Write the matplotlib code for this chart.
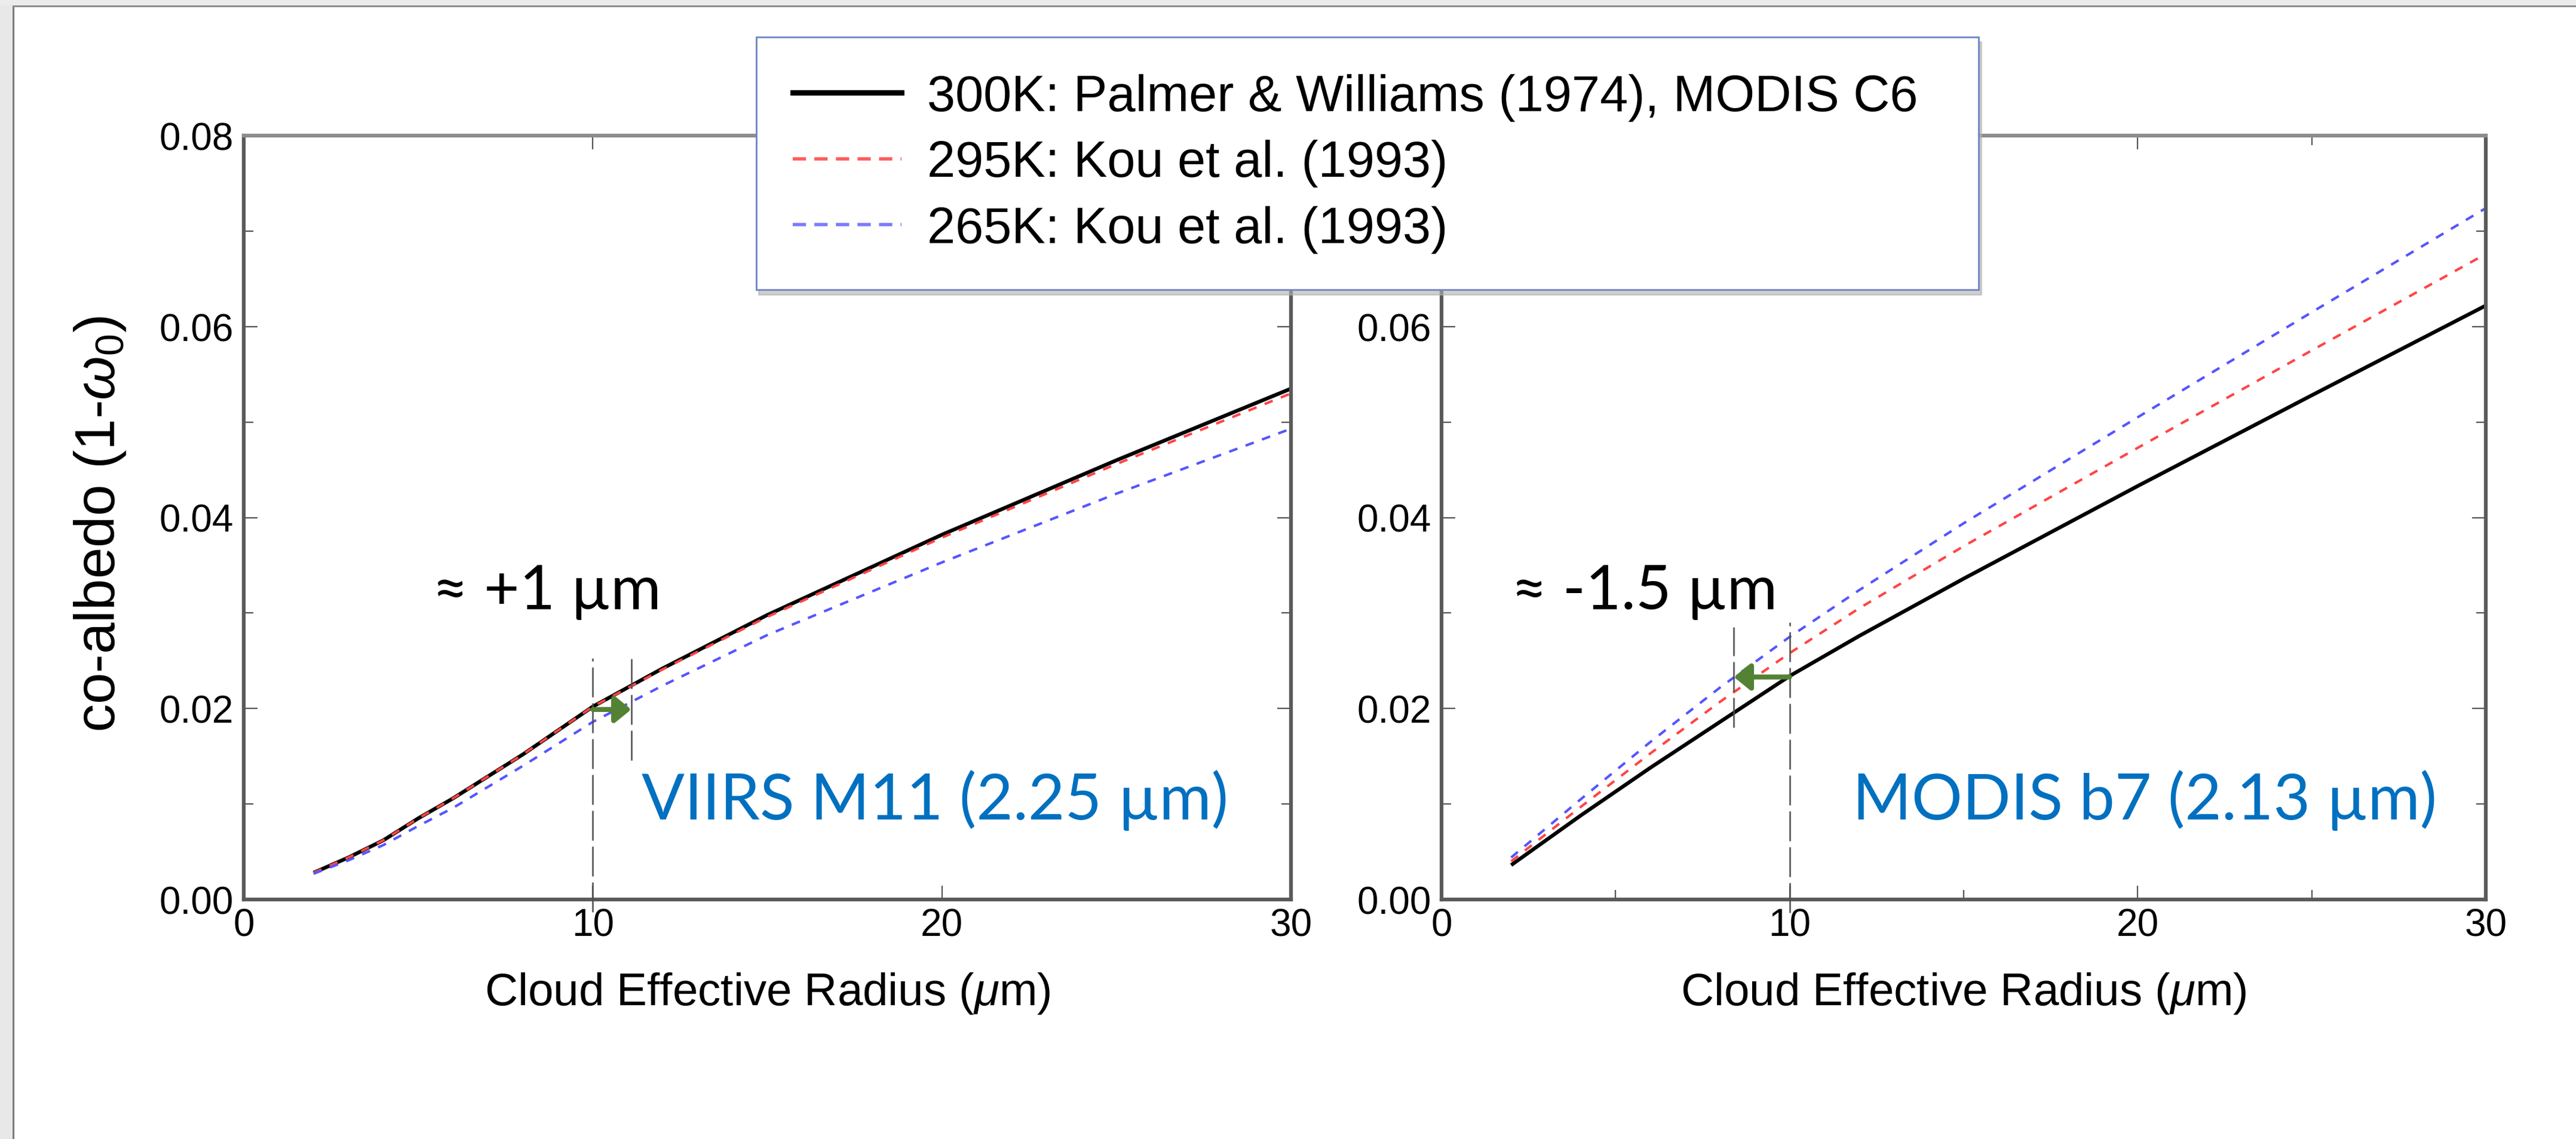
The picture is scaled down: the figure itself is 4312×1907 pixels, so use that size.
import matplotlib
matplotlib.use("Agg")
import matplotlib.pyplot as plt
from matplotlib.lines import Line2D
from matplotlib.patches import Rectangle
from matplotlib.ticker import MultipleLocator

plt.rcParams['font.family'] = ['Liberation Sans', 'DejaVu Sans']
plt.rcParams['mathtext.fontset'] = 'custom'
plt.rcParams['mathtext.rm'] = 'Liberation Sans'
plt.rcParams['mathtext.it'] = 'Liberation Sans:italic'

# ---------------- data ----------------
radius = [2, 3, 4, 5, 6, 8, 10, 12, 15, 20, 25, 30]
viirs_300k = [0.0028, 0.0044, 0.0062, 0.0085, 0.0106, 0.0152, 0.0202, 0.0242, 0.0298, 0.0382, 0.0460, 0.0535]
viirs_295k = [0.0028, 0.0044, 0.0062, 0.0085, 0.0106, 0.0152, 0.0202, 0.0241, 0.0296, 0.0379, 0.0456, 0.0530]
viirs_265k = [0.0027, 0.0041, 0.0057, 0.0077, 0.0096, 0.0140, 0.0186, 0.0224, 0.0277, 0.0353, 0.0425, 0.0493]

radius_b = [2, 4, 6, 8, 10, 12, 15, 20, 25, 30]
modis_300k = [0.0036, 0.0088, 0.0138, 0.0186, 0.0234, 0.0276, 0.0336, 0.0433, 0.0528, 0.0622]
modis_295k = [0.0040, 0.0097, 0.0153, 0.0207, 0.0258, 0.0305, 0.0370, 0.0473, 0.0575, 0.0676]
modis_265k = [0.0044, 0.0105, 0.0165, 0.0222, 0.0275, 0.0324, 0.0394, 0.0505, 0.0615, 0.0724]

legend_labels = ["300K: Palmer & Williams (1974), MODIS C6",
                 "295K: Kou et al. (1993)",
                 "265K: Kou et al. (1993)"]
x_ticks = [0, 10, 20, 30]
y_ticks = [0.00, 0.02, 0.04, 0.06, 0.08]

# annotation marks (data coordinates)
viirs_vlines_x = [10.0, 11.1]
viirs_vlines_y = [(-0.0013, 0.0253), (0.0146, 0.0253)]
viirs_arrow = (10.0, 11.1, 0.0199)
modis_vlines_x = [8.4, 10.0]
modis_vlines_y = [(0.0180, 0.0285), (-0.0014, 0.0290)]
modis_arrow = (10.0, 8.4, 0.0233)

BLACK = 'black'
RED = '#ff4545'
BLUE = '#5555ff'
GREEN = '#548235'
ANN_BLUE = '#0070C0'

W, H = 4312, 1908
fig = plt.figure(figsize=(W / 100, H / 100), dpi=100)
fig.patch.set_facecolor('white')

# slide frame (left and top gray bands)
fig.add_artist(Rectangle((0, 0), 21 / W, 1, transform=fig.transFigure,
                         facecolor='#e8e8e8', edgecolor='none', zorder=-5))
fig.add_artist(Rectangle((21 / W, 0), 2.5 / W, 1 - 10 / H, transform=fig.transFigure,
                         facecolor='#7a7a7a', edgecolor='none', zorder=-4))
fig.add_artist(Rectangle((0, 1 - 10 / H), 1, 10 / H, transform=fig.transFigure,
                         facecolor='#ececec', edgecolor='none', zorder=-5))
fig.add_artist(Rectangle((21 / W, 1 - 13 / H), 1, 3 / H, transform=fig.transFigure,
                         facecolor='#8c8c8c', edgecolor='none', zorder=-4))

axL = fig.add_axes([408 / W, 1 - 1507 / H, (2161 - 408) / W, (1507 - 228) / H])
axR = fig.add_axes([2413 / W, 1 - 1507 / H, (4161 - 2413) / W, (1507 - 228) / H])

dash = (0, (3.5, 3.5))
axL.plot(radius, viirs_300k, color=BLACK, lw=4.5, solid_capstyle='butt')
axL.plot(radius, viirs_295k, color=RED, lw=3, ls=dash)
axL.plot(radius, viirs_265k, color=BLUE, lw=3, ls=dash)

axR.plot(radius_b, modis_300k, color=BLACK, lw=4.5, solid_capstyle='butt')
axR.plot(radius_b, modis_295k, color=RED, lw=3, ls=dash)
axR.plot(radius_b, modis_265k, color=BLUE, lw=3, ls=dash)

for ax, xminor, hide_top in ((axL, False, False), (axR, True, True)):
    ax.set_xlim(0, 30)
    ax.set_ylim(0, 0.08)
    ax.set_xticks(x_ticks)
    ylabels = [f'{v:.2f}' for v in y_ticks]
    if hide_top:
        ylabels[-1] = ''   # covered by the legend in the reference
    ax.set_yticks(y_ticks, labels=ylabels)
    ax.yaxis.set_minor_locator(MultipleLocator(0.01))
    if xminor:
        ax.xaxis.set_minor_locator(MultipleLocator(5))
    ax.tick_params(which='both', direction='in', top=True, right=True,
                   color='#555555', width=1.6, labelsize=46, labelcolor='black')
    ax.tick_params(which='major', length=16.5)
    ax.tick_params(which='minor', length=11.5)
    ax.tick_params(axis='x', pad=10)
    ax.tick_params(axis='y', pad=12)
    for side in ('left', 'bottom', 'right'):
        ax.spines[side].set_color('#5a5a5a')
        ax.spines[side].set_linewidth(4.5)
    ax.spines['top'].set_color('#8c8c8c')
    ax.spines['top'].set_linewidth(4.5)
    ax.set_xlabel(r'Cloud Effective Radius ($\mu$m)', fontsize=55, va='baseline')
    ax.xaxis.set_label_coords(0.5, -(1683 - 1507) / (1507 - 228))

fig.text(192 / W, 1 - 877 / H, r'co-albedo (1-$\omega_0$)', fontsize=68,
         rotation=90, rotation_mode='anchor', ha='center', va='baseline')

# vertical dashed guide lines
vls = (0, (20, 4))
for xv, (y0, y1) in zip(viirs_vlines_x, viirs_vlines_y):
    axL.plot([xv, xv], [y0, y1], color='#4d4d4d', lw=1.8, ls=vls, clip_on=False, zorder=4)
for xv, (y0, y1) in zip(modis_vlines_x, modis_vlines_y):
    axR.plot([xv, xv], [y0, y1], color='#4d4d4d', lw=1.8, ls=vls, clip_on=False, zorder=4)

arrowprops = dict(arrowstyle='-|>,head_length=0.55,head_width=0.45', color=GREEN,
                  lw=6, shrinkA=0, shrinkB=0, mutation_scale=30)
axL.annotate('', xy=(viirs_arrow[1], viirs_arrow[2]), xytext=(viirs_arrow[0], viirs_arrow[2]),
             arrowprops=arrowprops, zorder=5)
axR.annotate('', xy=(modis_arrow[1], modis_arrow[2]), xytext=(modis_arrow[0], modis_arrow[2]),
             arrowprops=arrowprops, zorder=5)

ann_font = ['Lato', 'DejaVu Sans']
axL.text(5.40, 0.03046, '\u2248 +1 \u00b5m', fontsize=74, family=ann_font,
         ha='left', va='baseline', color='black')
axR.text(2.00, 0.03046, '\u2248 -1.5 \u00b5m', fontsize=74, family=ann_font,
         ha='left', va='baseline', color='black')
axL.text(11.40, 0.00844, 'VIIRS M11 (2.25 \u00b5m)', fontsize=76.5, family=ann_font,
         ha='left', va='baseline', color=ANN_BLUE)
axR.text(11.80, 0.00844, 'MODIS b7 (2.13 \u00b5m)', fontsize=76.5, family=ann_font,
         ha='left', va='baseline', color=ANN_BLUE)

handles = [Line2D([], [], color=BLACK, lw=6.5),
           Line2D([], [], color='#ff5a5a', lw=4, ls=(0, (4, 2.5))),
           Line2D([], [], color='#7b7bff', lw=4, ls=(0, (4, 2.5)))]
leg = fig.legend(handles, legend_labels, loc='upper left',
                 bbox_to_anchor=(1266 / W, 1 - 63 / H, 2046 / W, 0.0), mode='expand',
                 borderaxespad=0, fontsize=61, handlelength=2.15, handletextpad=0.5,
                 labelspacing=0.36, borderpad=0.72, frameon=True, fancybox=False,
                 edgecolor='#7083c4', framealpha=1,
                 shadow={'ox': 3, 'oy': -6, 'color': '#b0b0b0', 'alpha': 0.6})
leg.get_frame().set_linewidth(2)
leg._legend_box.align = 'left'

fig.savefig('out.png', dpi=100, facecolor='white')
